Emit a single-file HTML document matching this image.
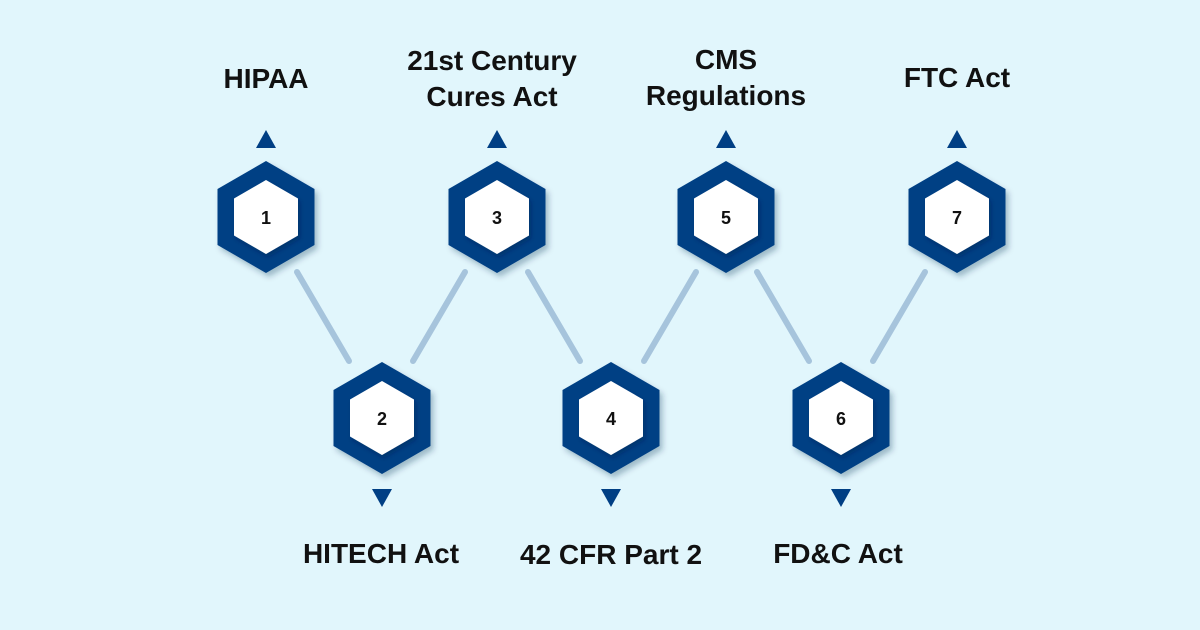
<!DOCTYPE html>
<html><head><style>
html,body{margin:0;padding:0;background:#e1f6fc;}
svg{display:block;}
text{font-family:"Liberation Sans",sans-serif;font-weight:bold;fill:#111;}
</style></head><body>
<svg width="1200" height="630" viewBox="0 0 1200 630" xmlns="http://www.w3.org/2000/svg">
<defs>
<filter id="sh" x="-30%" y="-30%" width="160%" height="160%">
<feDropShadow dx="3" dy="4" stdDeviation="3" flood-color="#00284f" flood-opacity="0.3"/>
</filter>
<filter id="sh2" x="-30%" y="-30%" width="160%" height="160%">
<feDropShadow dx="2" dy="3" stdDeviation="2" flood-color="#001a40" flood-opacity="0.35"/>
</filter>
<g id="hex">
<polygon points="0,-56 48.5,-28 48.5,28 0,56 -48.5,28 -48.5,-28" fill="#003f84" filter="url(#sh)"/>
<polygon points="0,-37 32,-18.5 32,18.5 0,37 -32,18.5 -32,-18.5" fill="#fff" filter="url(#sh2)"/>
</g>
</defs>
<rect width="1200" height="630" fill="#e1f6fc"/>
<g stroke="#a6c4dc" stroke-width="6" stroke-linecap="round">
<line x1="297" y1="272" x2="349" y2="361"/>
<line x1="413" y1="361" x2="465" y2="272"/>
<line x1="528" y1="272" x2="580" y2="361"/>
<line x1="644" y1="361" x2="696" y2="272"/>
<line x1="757" y1="272" x2="809" y2="361"/>
<line x1="873" y1="361" x2="925" y2="272"/>
</g>
<g fill="#003f84">
<polygon points="266,130 256,148 276,148"/>
<polygon points="497,130 487,148 507,148"/>
<polygon points="726,130 716,148 736,148"/>
<polygon points="957,130 947,148 967,148"/>
<polygon points="382,507 372,489 392,489"/>
<polygon points="611,507 601,489 621,489"/>
<polygon points="841,507 831,489 851,489"/>
</g>
<use href="#hex" x="266" y="217"/>
<use href="#hex" x="382" y="418"/>
<use href="#hex" x="497" y="217"/>
<use href="#hex" x="611" y="418"/>
<use href="#hex" x="726" y="217"/>
<use href="#hex" x="841" y="418"/>
<use href="#hex" x="957" y="217"/>
<g font-size="18" text-anchor="middle">
<text x="266" y="224">1</text>
<text x="382" y="425">2</text>
<text x="497" y="224">3</text>
<text x="611" y="425">4</text>
<text x="726" y="224">5</text>
<text x="841" y="425">6</text>
<text x="957" y="224">7</text>
</g>
<g font-size="28" text-anchor="middle">
<text x="266" y="88">HIPAA</text>
<text x="492" y="70">21st Century</text>
<text x="492" y="106">Cures Act</text>
<text x="726" y="69">CMS</text>
<text x="726" y="105">Regulations</text>
<text x="957" y="87">FTC Act</text>
<text x="381" y="563">HITECH Act</text>
<text x="611" y="564">42 CFR Part 2</text>
<text x="838" y="563">FD&amp;C Act</text>
</g>
</svg>
</body></html>
